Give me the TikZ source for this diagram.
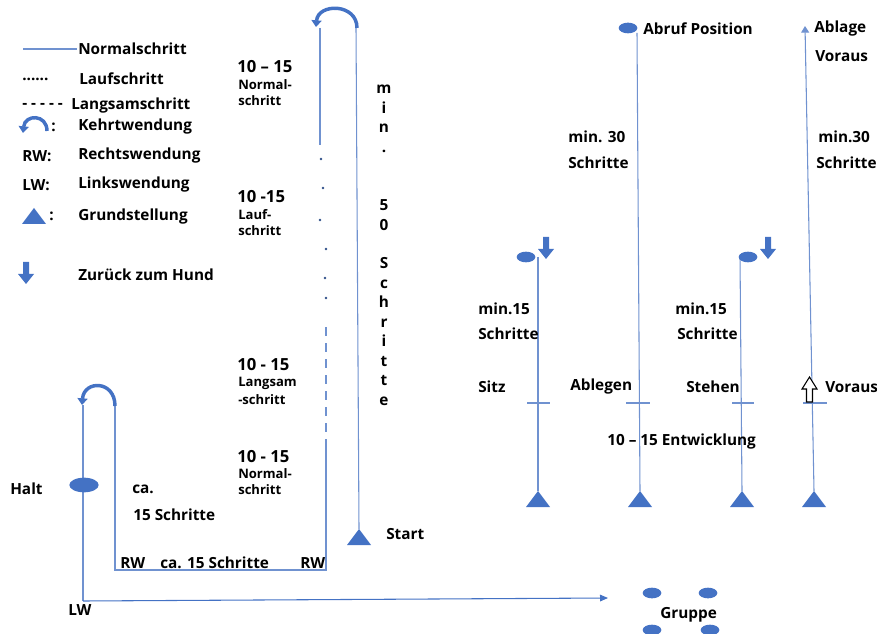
\documentclass[tikz,border=0pt]{standalone}
\usepackage{fontspec}
\setmainfont{Open Sans}
\usetikzlibrary{arrows.meta,shapes.geometric}
\definecolor{blueF}{RGB}{68,114,196}
\definecolor{blueL}{RGB}{112,146,208}
\tikzset{
  weg/.style={draw=blueL, line width=0.8pt},
  hund/.style={ellipse, fill=blueF, minimum width=14pt, minimum height=8pt, inner sep=0pt},
  txt/.style={anchor=west, inner sep=0.75pt, font=\bfseries\fontsize{11.5}{13}\selectfont},
  gross/.style={anchor=west, inner sep=0.75pt, font=\bfseries\fontsize{12.5}{14}\selectfont},
  klein/.style={anchor=west, inner sep=0.75pt, font=\bfseries\fontsize{9.8}{11}\selectfont},
  kehrt/.style={draw=blueF, line width=2.6pt, -{Triangle[length=5pt,width=7.5pt]}},
  pics/grund/.style={code={\fill[blueF] (-12,-8) -- (12,-8) -- (0,8) -- cycle;}},
  pics/zurueck/.style={code={\fill[blueF] (-3,11) -- (3,11) -- (3,-1) -- (8,-1) -- (0,-11) -- (-8,-1) -- (-3,-1) -- cycle;}},
}
\begin{document}
\begin{tikzpicture}[x=0.75pt,y=0.75pt,yscale=-1,xscale=1]
\useasboundingbox (0,0) rectangle (877,634);

%Legend
\draw[weg] (23,49) -- (77,49);
\node[txt] (lgNormal) at (77,49) {Normalschritt};
\node[txt] (lgPunkte) at (21,79) {......};
\node[txt] (lgLauf) at (78,79) {Laufschritt};
\node[txt] (lgStriche) at (21,106) {- - - - -};
\node[txt] (lgLangsam) at (70,106) {Langsamschritt};
\draw[kehrt] (47,131) .. controls (47,114) and (25,114) .. (23,133);
\node[txt] (lgKehrtP) at (50,127) {:};
\node[txt] (lgKehrt) at (77,127) {Kehrtwendung};
\node[txt] (lgRW) at (21,156) {RW:};
\node[txt] (lgRechts) at (77,156) {Rechtswendung};
\node[txt] (lgLW) at (21,185) {LW:};
\node[txt] (lgLinks) at (77,185) {Linkswendung};
\pic at (34,216) {grund};
\node[txt] (lgGrundP) at (48,216) {:};
\node[txt] (lgGrund) at (77,217) {Grundstellung};
\pic at (26,273) {zurueck};
\node[txt] (lgZurueck) at (77,275) {Zurück zum Hund};

%Middle course
\coordinate (startTop) at (359,529);
\coordinate (obenR) at (356,28);
\coordinate (obenL) at (320,28);
\coordinate (normalEnde) at (320,145);
\coordinate (langsamA) at (326,327);
\coordinate (langsamB) at (326,447);
\coordinate (eckeR) at (326,570);
\coordinate (eckeL) at (115,570);
\coordinate (kehrtR) at (115,405);
\coordinate (kehrtL) at (83,405);
\coordinate (eckeLW) at (83,601);
\coordinate (gruppeZiel) at (608,598);
\pic at (359,537) {grund};
\draw[weg] (startTop) -- (obenR);
\draw[kehrt] (357,28) .. controls (357,3) and (318,3) .. (316,27);
\draw[weg] (obenL) -- (normalEnde);
\foreach \px/\py in {321/159,323/188,320/220,326/249,325/278,326/298}
  \fill[blueF!70!black] (\px,\py) circle (1.4);
\draw[weg, dash pattern={on 7pt off 5pt}] (langsamA) -- (langsamB);
\draw[weg] (langsamB) -- (eckeR) -- (eckeL) -- (kehrtR);
\draw[kehrt] (115,406) .. controls (115,380) and (84,380) .. (82,405);
\draw[weg] (kehrtL) -- (eckeLW);
\node[hund, minimum width=22pt, minimum height=11pt] (halt) at (84,485) {};
\draw[draw=blueF, line width=0.8pt, -{Triangle[length=6pt,width=5pt]}] (eckeLW) -- (gruppeZiel);

% Text Node
\node[gross] (zahl1) at (236,67) {10 – 15};
\node[klein] (art1a) at (237,85) {Normal-};
\node[klein] (art1b) at (237,101) {schritt};
\node[gross] (zahl2) at (236,197) {10 -15};
\node[klein] (art2a) at (237,215) {Lauf-};
\node[klein] (art2b) at (237,231) {schritt};
\node[gross] (zahl3) at (236,365) {10 - 15};
\node[klein] (art3a) at (237,383) {Langsam};
\node[klein] (art3b) at (237,400) {-schritt};
\node[gross] (zahl4) at (236,457) {10 - 15};
\node[klein] (art4a) at (237,474) {Normal-};
\node[klein] (art4b) at (237,490) {schritt};
\node[txt, anchor=north, align=center, font=\bfseries\fontsize{11.5}{14.6}\selectfont] (minFuenfzig) at (384,84)
  {m\\i\\n\\.\\~\\~\\5\\0\\~\\S\\c\\h\\r\\i\\t\\t\\e};
\node[txt] (start) at (385,534) {Start};
\node[txt] (halttxt) at (9,489) {Halt};
\node[txt] (ca) at (131,489) {ca.};
\node[txt] (fuenfzehn) at (132,515) {15 Schritte};
\node[txt] (rw1) at (119,563) {RW};
\node[txt] (caUnten) at (159,563) {ca. 15 Schritte};
\node[txt] (rw2) at (299,563) {RW};
\node[txt] (lw) at (67,610) {LW};

%Right part
\coordinate (sitzOben) at (538,257);
\coordinate (sitzUnten) at (538,491);
\coordinate (ablegenOben) at (637,33);
\coordinate (ablegenUnten) at (640,491);
\coordinate (stehenOben) at (740,257);
\coordinate (stehenUnten) at (742,491);
\coordinate (vorausOben) at (805,26);
\coordinate (vorausUnten) at (814,491);
\draw[weg] (sitzOben) -- (sitzUnten);
\draw[weg] (ablegenOben) -- (ablegenUnten);
\draw[weg] (stehenOben) -- (stehenUnten);
\draw[weg, {Triangle[length=5pt,width=6pt]}-] (vorausOben) -- (vorausUnten);
\node[hund] (abruf) at (628,28) {};
\node[hund] (hundSitz) at (526,257) {};
\node[hund] (hundSteh) at (748,257) {};
\pic at (546,248) {zurueck};
\pic at (768,248) {zurueck};
\foreach \tx in {538,640,742,814}
  \pic at (\tx,499) {grund};
\foreach \ax/\bx in {527/550,626/650,732/754,803/827}
  \draw[weg] (\ax,403) -- (\bx,403);
\draw[black, fill=white, line width=0.8pt] (809.5,377) -- (817,389) -- (812.5,389) -- (812.5,402) -- (806.5,402) -- (806.5,389) -- (802,389) -- cycle;

\node[txt] (abrufTxt) at (642,29) {Abruf Position};
\node[txt] (ablage) at (813,29) {Ablage};
\node[txt] (vorausTxt) at (814,56) {Voraus};
\node[txt] (min30a) at (567,137) {min. 30};
\node[txt] (schritte30a) at (567,163) {Schritte};
\node[txt] (min30b) at (817,137) {min.30};
\node[txt] (schritte30b) at (815,163) {Schritte};
\node[txt] (min15a) at (477,309) {min.15};
\node[txt] (schritte15a) at (477,334) {Schritte};
\node[txt] (min15b) at (674,309) {min.15};
\node[txt] (schritte15b) at (676,334) {Schritte};
\node[txt] (sitz) at (477,387) {Sitz};
\node[txt] (ablegen) at (569,387) {Ablegen};
\node[txt] (stehen) at (685,387) {Stehen};
\node[txt] (voraus) at (824,387) {Voraus};
\node[txt] (entwicklung) at (606,442) {10 – 15 Entwicklung};

%Gruppe
\node[hund] (g1) at (652,593) {};
\node[hund] (g2) at (708,593) {};
\node[hund] (g3) at (652,630) {};
\node[hund] (g4) at (710,630) {};
\node[txt] (gruppe) at (659,615) {Gruppe};

\end{tikzpicture}
\end{document}
